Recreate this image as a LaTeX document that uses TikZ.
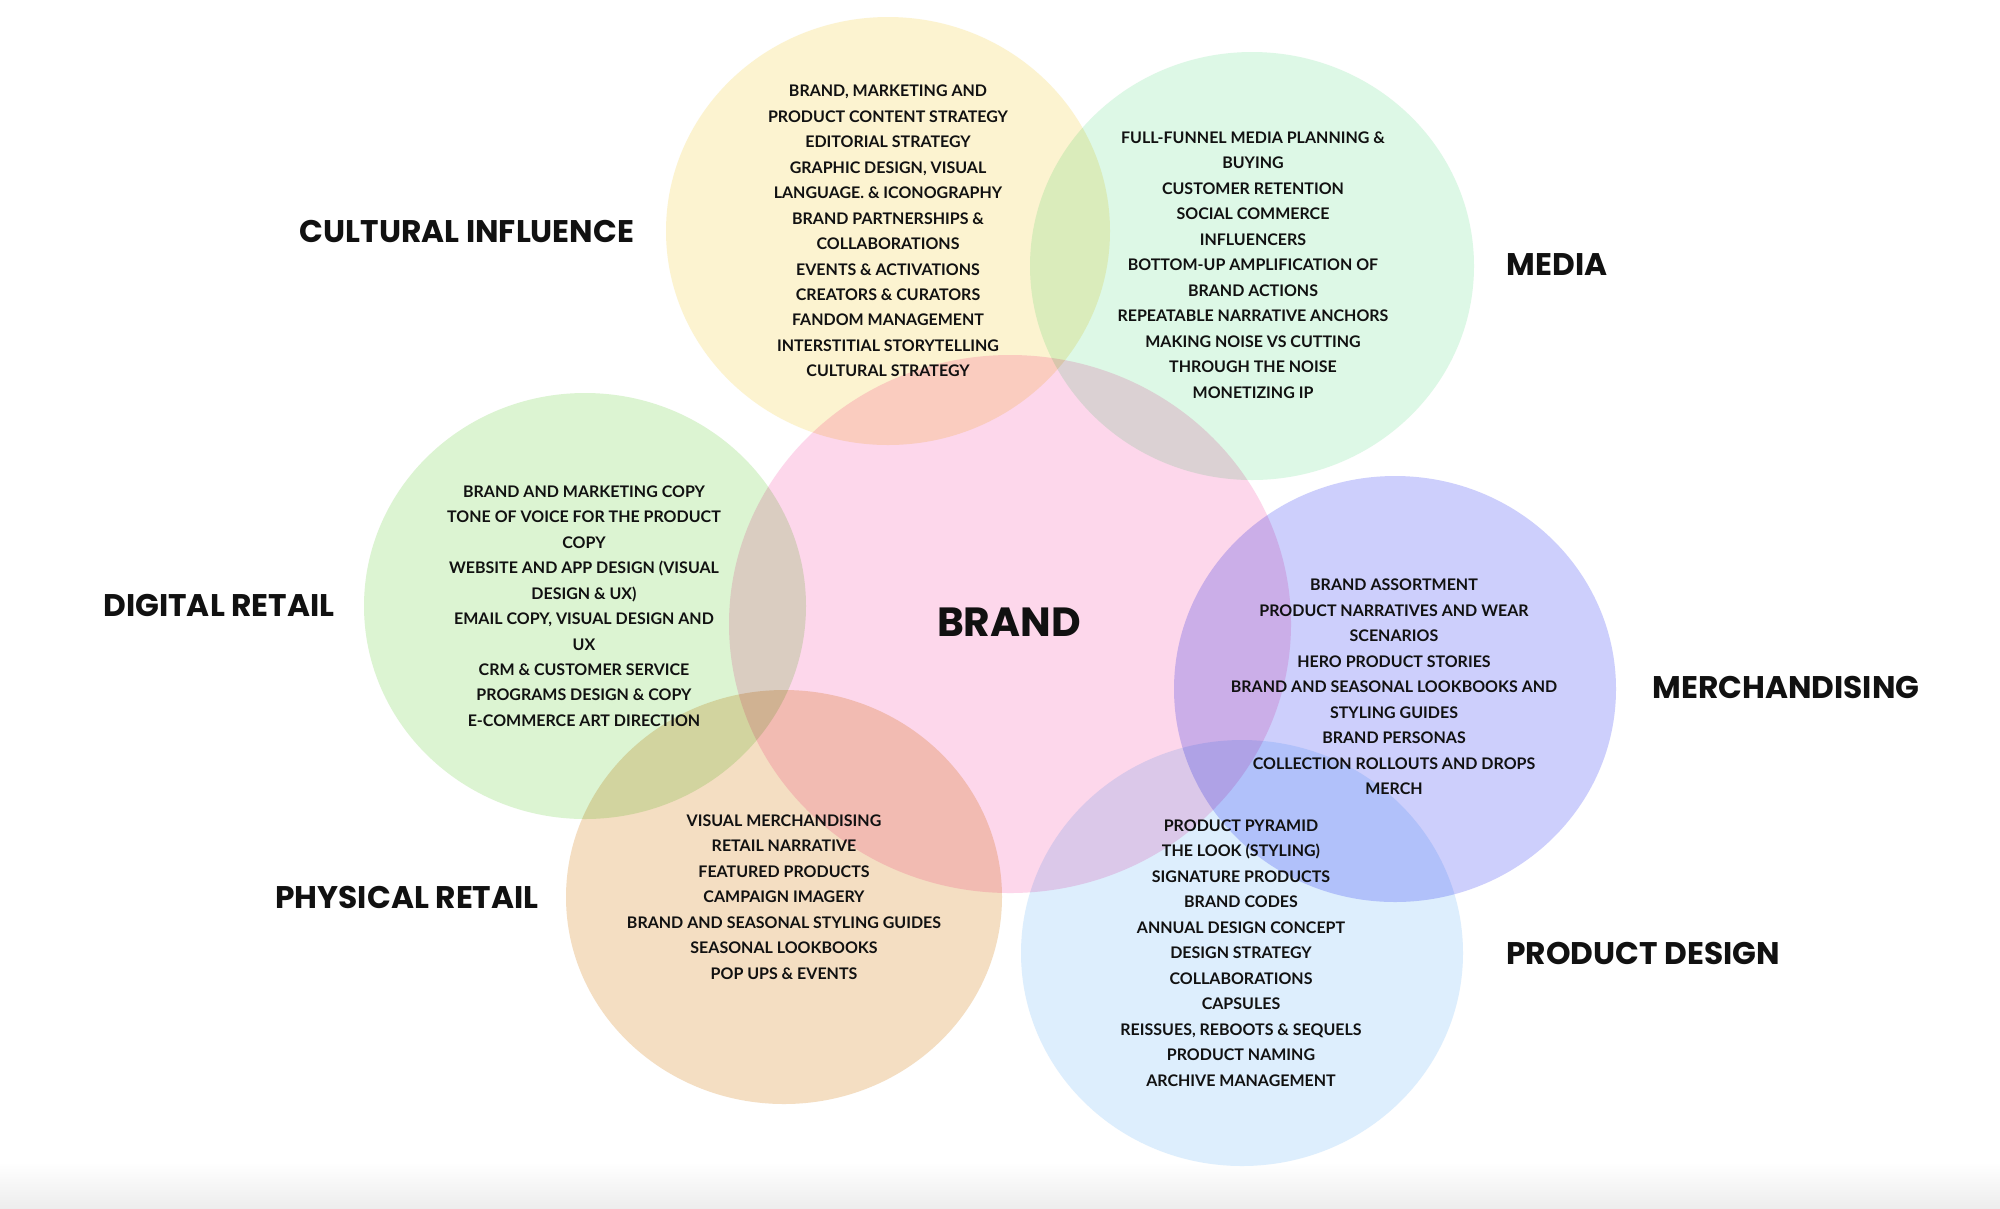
\documentclass[tikz,border=0pt]{standalone}
\usepackage{fontspec}
\setmainfont{Lato}
\newfontfamily\headfont{Poppins}
\usetikzlibrary{positioning}
\definecolor{cultfill}{HTML}{FCF3D0}
\definecolor{mediafill}{HTML}{DDF8E6}
\definecolor{digifill}{HTML}{DCF4D2}
\definecolor{physfill}{HTML}{F4DEC2}
\definecolor{prodfill}{HTML}{DDEEFD}
\definecolor{merchfill}{HTML}{CDCFFC}
\definecolor{brandfill}{HTML}{FDD7EB}
\definecolor{ink}{HTML}{111111}

\begin{document}
\begin{tikzpicture}[x=0.02cm,y=-0.02cm,
  listtext/.style={align=center, text=ink, inner sep=0pt,
    font=\bfseries\fontsize{9.1}{14.5}\selectfont},
  arealabel/.style={text=ink, inner sep=0pt, font=\headfont\bfseries\fontsize{17.8}{20}\selectfont}]
\useasboundingbox (0,0) rectangle (2000,1208);
\fill[white] (0,0) rectangle (2000,1208);
\shade[top color=white, bottom color=black!7] (0,1162) rectangle (2000,1208);
% circles, multiplied so that the overlaps darken
\begin{scope}[blend group=multiply]
\fill[brandfill] (1010,624) ellipse [x radius=281, y radius=269];
\fill[cultfill] (888,231) ellipse [x radius=222, y radius=214];
\fill[mediafill] (1252,266) ellipse [x radius=222, y radius=214];
\fill[digifill] (585,606) ellipse [x radius=221, y radius=213];
\fill[physfill] (784,897) ellipse [x radius=218, y radius=207];
\fill[merchfill] (1395,689) ellipse [x radius=221, y radius=213];
\fill[prodfill] (1242,953) ellipse [x radius=221, y radius=213];
\end{scope}
\node[text=ink, inner sep=0pt, font=\headfont\bfseries\fontsize{23.2}{26}\selectfont] (brand) at (1009,622) {BRAND};
% lists
\node[listtext] (cultlist) at (888,231) {BRAND, MARKETING AND\\PRODUCT CONTENT STRATEGY\\EDITORIAL STRATEGY\\GRAPHIC DESIGN, VISUAL\\LANGUAGE. \& ICONOGRAPHY\\BRAND PARTNERSHIPS \&\\COLLABORATIONS\\EVENTS \& ACTIVATIONS\\CREATORS \& CURATORS\\FANDOM MANAGEMENT\\INTERSTITIAL STORYTELLING\\CULTURAL STRATEGY};
\node[listtext] (medialist) at (1253,265) {FULL-FUNNEL MEDIA PLANNING \&\\BUYING\\CUSTOMER RETENTION\\SOCIAL COMMERCE\\INFLUENCERS\\BOTTOM-UP AMPLIFICATION OF\\BRAND ACTIONS\\REPEATABLE NARRATIVE ANCHORS\\MAKING NOISE VS CUTTING\\THROUGH THE NOISE\\MONETIZING IP};
\node[listtext] (digilist) at (584,606) {BRAND AND MARKETING COPY\\TONE OF VOICE FOR THE PRODUCT\\COPY\\WEBSITE AND APP DESIGN (VISUAL\\DESIGN \& UX)\\EMAIL COPY, VISUAL DESIGN AND\\UX\\CRM \& CUSTOMER SERVICE\\PROGRAMS DESIGN \& COPY\\E-COMMERCE ART DIRECTION};
\node[listtext] (physlist) at (784,897) {VISUAL MERCHANDISING\\RETAIL NARRATIVE\\FEATURED PRODUCTS\\CAMPAIGN IMAGERY\\BRAND AND SEASONAL STYLING GUIDES\\SEASONAL LOOKBOOKS\\POP UPS \& EVENTS};
\node[listtext] (merchlist) at (1394,687) {BRAND ASSORTMENT\\PRODUCT NARRATIVES AND WEAR\\SCENARIOS\\HERO PRODUCT STORIES\\BRAND AND SEASONAL LOOKBOOKS AND\\STYLING GUIDES\\BRAND PERSONAS\\COLLECTION ROLLOUTS AND DROPS\\MERCH};
\node[listtext] (prodlist) at (1241,953) {PRODUCT PYRAMID\\THE LOOK (STYLING)\\SIGNATURE PRODUCTS\\BRAND CODES\\ANNUAL DESIGN CONCEPT\\DESIGN STRATEGY\\COLLABORATIONS\\CAPSULES\\REISSUES, REBOOTS \& SEQUELS\\PRODUCT NAMING\\ARCHIVE MANAGEMENT};
% area names
\node[arealabel] (cultname) at (467,231) {CULTURAL INFLUENCE};
\node[arealabel] (medianame) at (1557,265) {MEDIA};
\node[arealabel] (diginame) at (219,605) {DIGITAL RETAIL};
\node[arealabel] (merchname) at (1786,687) {MERCHANDISING};
\node[arealabel] (physname) at (407,897) {PHYSICAL RETAIL};
\node[arealabel] (prodname) at (1643,953) {PRODUCT DESIGN};
\end{tikzpicture}
\end{document}
